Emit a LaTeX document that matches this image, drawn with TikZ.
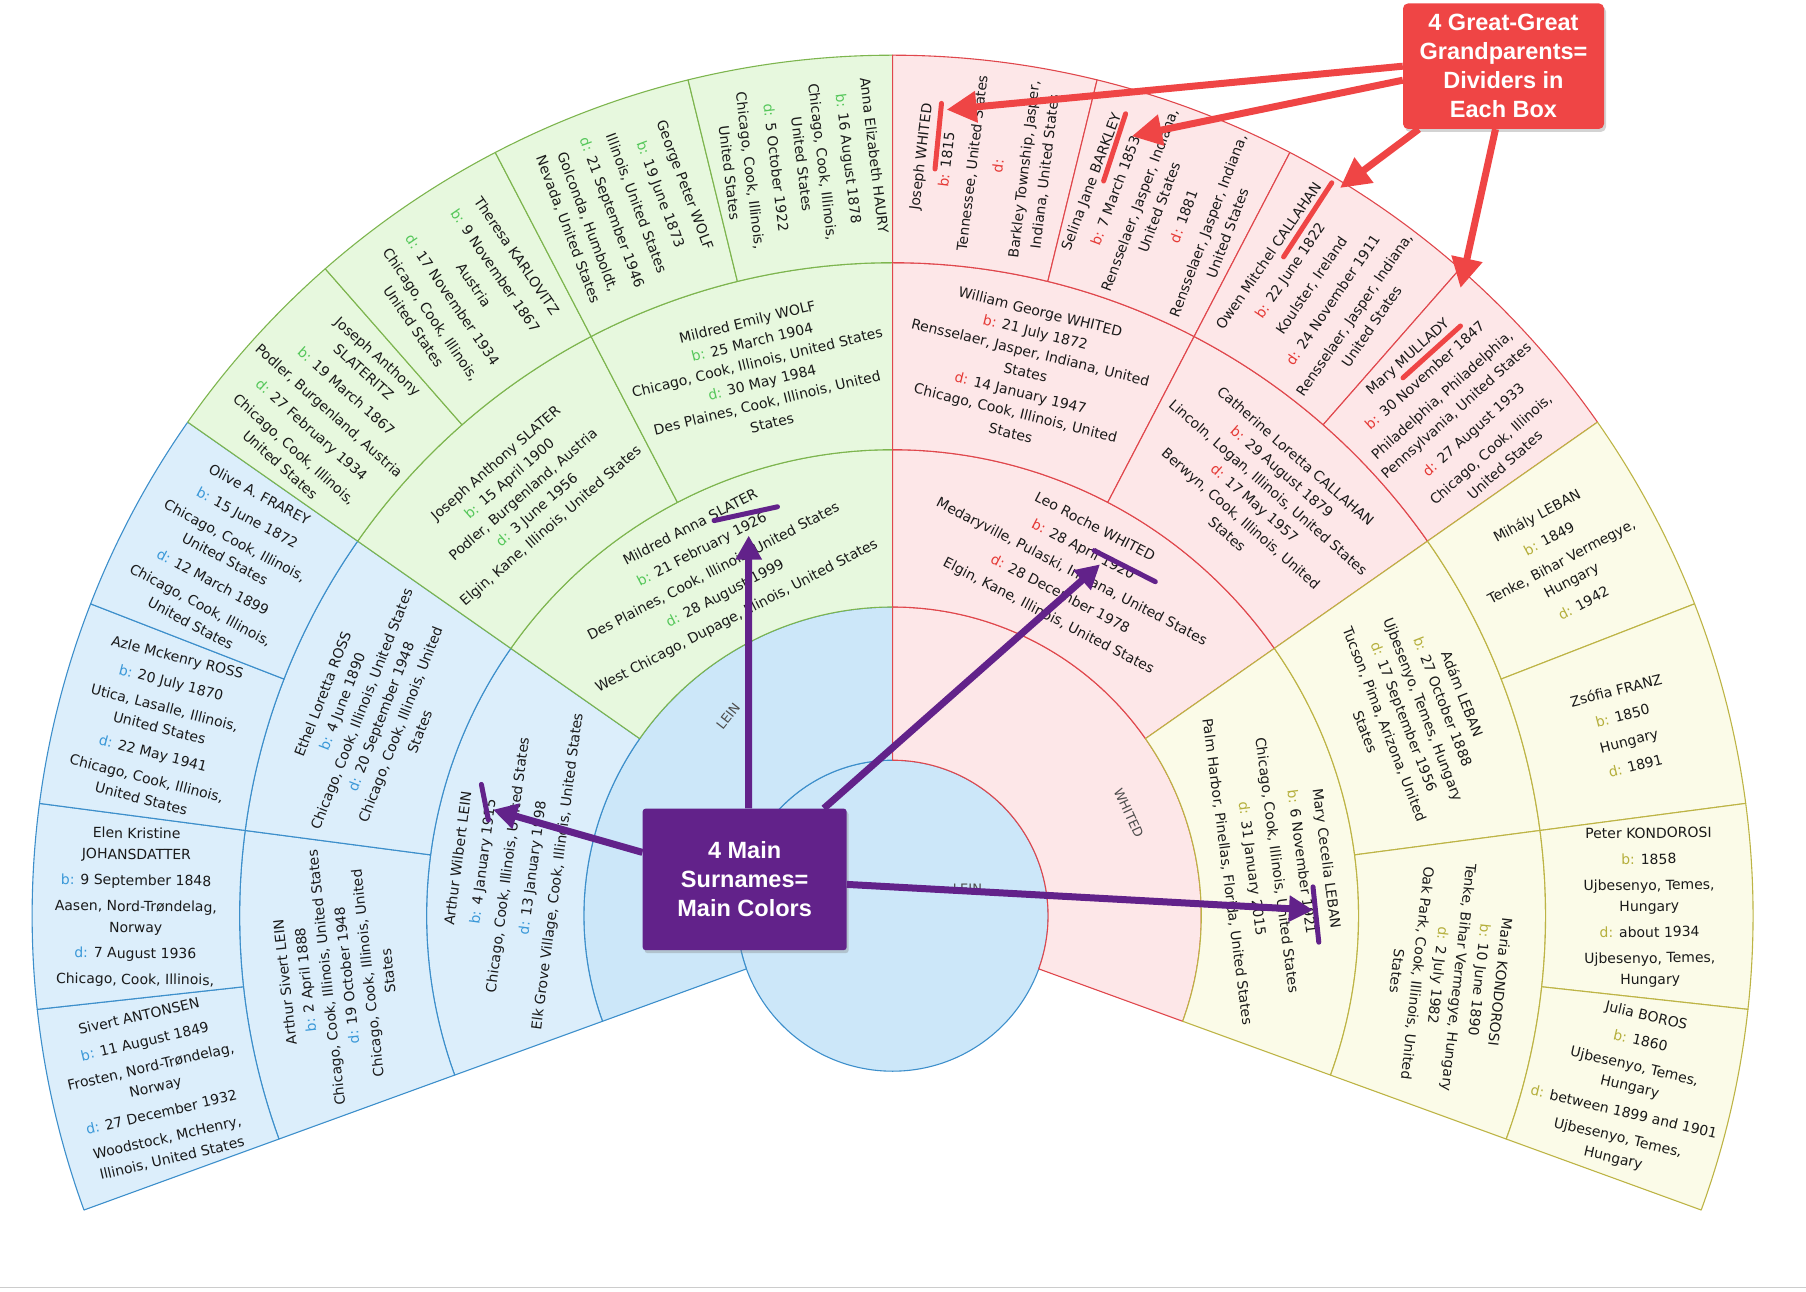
\documentclass[tikz,border=0pt]{standalone}
\usepackage{fontspec}
\setmainfont{DejaVu Sans}
\newfontfamily\annfont{Liberation Sans}
\usetikzlibrary{arrows.meta,shadows}
\definecolor{bluefill}{HTML}{DCEEFB}
\definecolor{bluecore}{HTML}{CCE7F9}
\definecolor{blueline}{HTML}{3D8FCB}
\definecolor{greenfill}{HTML}{E7F8DE}
\definecolor{greenline}{HTML}{7DB54E}
\definecolor{pinkfill}{HTML}{FDE7E8}
\definecolor{pinkline}{HTML}{E0474C}
\definecolor{yellowfill}{HTML}{FBFBE8}
\definecolor{yellowline}{HTML}{BDB445}
\definecolor{bluekey}{HTML}{3A98D8}
\definecolor{greenkey}{HTML}{55C75A}
\definecolor{redkey}{HTML}{E53935}
\definecolor{olivekey}{HTML}{B5AF3C}
\definecolor{txt}{HTML}{1A1A1A}
\definecolor{callred}{HTML}{EF4545}
\definecolor{callpurple}{HTML}{62228A}
\colorlet{key}{bluekey}
\newcommand\kb{\textcolor{key}{b:} }
\newcommand\kd{\textcolor{key}{d:} }
\newcommand\wl{\\[-5pt]}
\newcommand\fansec[6]{\filldraw[fill=#5,draw=#6,line width=1.1pt,line join=round] (#1:#3) arc[start angle=#1,end angle=#2,radius=#3] -- (#2:#4) arc[start angle=#2,end angle=#1,radius=#4] -- cycle;}
\tikzset{
  person/.style={align=center,text=txt,inner sep=0pt},
  rfour/.style={person,font=\fontsize{14}{26}\selectfont},
  rthree/.style={person,font=\fontsize{14}{20.8}\selectfont},
  rtwo/.style={person,font=\fontsize{14}{25}\selectfont},
  rone/.style={inner sep=0pt,text=black!70,font=\fontsize{13}{15}\selectfont},
  callbox/.style={rounded corners=5pt,text=white,align=center,inner sep=0pt,
    font=\annfont\bfseries\fontsize{23.5}{29}\selectfont,
    drop shadow={opacity=0.35,shadow xshift=2pt,shadow yshift=-3pt}},
  redarrow/.style={draw=callred,line width=7pt,-{Triangle[length=30pt,width=30pt]}},
  purplearrow/.style={draw=callpurple,line width=7pt,-{Triangle[length=24pt,width=25pt]}},
  redmark/.style={draw=callred,line width=5pt,line cap=round},
  purplemark/.style={draw=callpurple,line width=5pt,line cap=round}
}
\begin{document}
\begin{tikzpicture}[x=1pt,y=1pt]
\useasboundingbox (-892.6,-375.3) rectangle (913.4,915.7);
\draw[black!20,line width=1.5pt] (-892.6,-372) -- (913.4,-372);
% center and ring 1
\filldraw[fill=bluecore,draw=blueline,line width=1.1pt] (0,0) circle[radius=155.5];
\fansec{90}{200}{155.5}{308.7}{bluecore}{blueline}
\fansec{-20}{90}{155.5}{308.7}{pinkfill}{pinkline}
% ring 2
\fansec{145}{200}{308.7}{466}{bluefill}{blueline}
\fansec{90}{145}{308.7}{466}{greenfill}{greenline}
\fansec{35}{90}{308.7}{466}{pinkfill}{pinkline}
\fansec{-20}{35}{308.7}{466}{yellowfill}{yellowline}
% ring 3
\foreach \a/\b in {172.5/200,145/172.5}{\fansec{\a}{\b}{466}{653}{bluefill}{blueline}}
\foreach \a/\b in {117.5/145,90/117.5}{\fansec{\a}{\b}{466}{653}{greenfill}{greenline}}
\foreach \a/\b in {62.5/90,35/62.5}{\fansec{\a}{\b}{466}{653}{pinkfill}{pinkline}}
\foreach \a/\b in {7.5/35,-20/7.5}{\fansec{\a}{\b}{466}{653}{yellowfill}{yellowline}}
% ring 4
\foreach \a/\b in {186.25/200,172.5/186.25,158.75/172.5,145/158.75}{\fansec{\a}{\b}{653}{860.5}{bluefill}{blueline}}
\foreach \a/\b in {131.25/145,117.5/131.25,103.75/117.5,90/103.75}{\fansec{\a}{\b}{653}{860.5}{greenfill}{greenline}}
\foreach \a/\b in {76.25/90,62.5/76.25,48.75/62.5,35/48.75}{\fansec{\a}{\b}{653}{860.5}{pinkfill}{pinkline}}
\foreach \a/\b in {21.25/35,7.5/21.25,-6.25/7.5,-20/-6.25}{\fansec{\a}{\b}{653}{860.5}{yellowfill}{yellowline}}

% ring 1 and center labels
\node (c0) [rone] at (74.9,26.5) {LEIN};
\node (r11) [rone,rotate=52] at (129.5:258.5) {LEIN};
\node (r12) [rone,rotate=-65] at (23.5:257.5) {WHITED};

% ---- blue side
\colorlet{key}{bluekey}
\node (n41) [rfour,rotate=13.125] at (193.125:756.8) {Sivert ANTONSEN\\\kb 11 August 1849\\Frosten, Nord-Trøndelag,\wl Norway\\\kd 27 December 1932\\Woodstock, McHenry,\wl Illinois, United States};
\node (n42) [rfour,rotate=-0.625] at (179.375:756.8) {Elen Kristine\wl JOHANSDATTER\\\kb 9 September 1848\\Aasen, Nord-Trøndelag,\wl Norway\\\kd 7 August 1936\\Chicago, Cook, Illinois,};
\node (n43) [rfour,rotate=-14.375] at (165.625:756.8) {Azle Mckenry ROSS\\\kb 20 July 1870\\Utica, Lasalle, Illinois,\wl United States\\\kd 22 May 1941\\Chicago, Cook, Illinois,\wl United States};
\node (n44) [rfour,rotate=-28.125] at (151.875:756.8) {Olive A. FRAREY\\\kb 15 June 1872\\Chicago, Cook, Illinois,\wl United States\\\kd 12 March 1899\\Chicago, Cook, Illinois,\wl United States};
\node (n31) [rthree,rotate=96.25] at (186.25:559.5) {Arthur Sivert LEIN\\\kb 2 April 1888\\Chicago, Cook, Illinois, United States\\\kd 19 October 1948\\Chicago, Cook, Illinois, United\\States};
\node (n32) [rthree,rotate=68.75] at (158.75:559.5) {Ethel Loretta ROSS\\\kb 4 June 1890\\Chicago, Cook, Illinois, United States\\\kd 20 September 1948\\Chicago, Cook, Illinois, United\\States};
\node (n21) [rtwo,rotate=82.5] at (172.5:387.4) {Arthur Wilbert LEIN\\\kb 4 January 1915\\Chicago, Cook, Illinois, United States\\\kd 13 January 1998\\Elk Grove Village, Cook, Illinois, United States};

% ---- green side
\colorlet{key}{greenkey}
\node (n45) [rfour,rotate=-41.875] at (138.125:756.8) {Joseph Anthony\wl SLATERITZ\\\kb 19 March 1867\\Podler, Burgenland, Austria\\\kd 27 February 1934\\Chicago, Cook, Illinois,\wl United States};
\node (n46) [rfour,rotate=-55.625] at (124.375:756.8) {Theresa KARLOVITZ\\\kb 9 November 1867\\Austria\\\kd 17 November 1934\\Chicago, Cook, Illinois,\wl United States};
\node (n47) [rfour,rotate=-69.375] at (110.625:756.8) {George Peter WOLF\\\kb 19 June 1873\\Illinois, United States\\\kd 21 September 1946\\Golconda, Humboldt,\wl Nevada, United States};
\node (n48) [rfour,rotate=-83.125] at (96.875:756.8) {Anna Elizabeth HAURY\\\kb 16 August 1878\\Chicago, Cook, Illinois,\wl United States\\\kd 5 October 1922\\Chicago, Cook, Illinois,\wl United States};
\node (n33) [rthree,rotate=41.25] at (131.25:559.5) {Joseph Anthony SLATER\\\kb 15 April 1900\\Podler, Burgenland, Austria\\\kd 3 June 1956\\Elgin, Kane, Illinois, United States};
\node (n34) [rthree,rotate=13.75] at (103.75:559.5) {Mildred Emily WOLF\\\kb 25 March 1904\\Chicago, Cook, Illinois, United States\\\kd 30 May 1984\\Des Plaines, Cook, Illinois, United\\States};
\node (n22) [rtwo,rotate=27.5] at (117.5:387.4) {Mildred Anna SLATER\\\kb 21 February 1926\\Des Plaines, Cook, Illinois, United States\\\kd 28 August 1999\\West Chicago, Dupage, Illinois, United States};

% ---- pink side
\colorlet{key}{redkey}
\node (n49) [rfour,rotate=83.125] at (83.125:756.8) {Joseph WHITED\\\kb 1815\\Tennessee, United States\\\textcolor{key}{d:}\\Barkley Township, Jasper,\wl Indiana, United States};
\node (n410) [rfour,rotate=69.375] at (69.375:756.8) {Selina Jane BARKLEY\\\kb 7 March 1853\\Rensselaer, Jasper, Indiana,\wl United States\\\kd 1881\\Rensselaer, Jasper, Indiana,\wl United States};
\node (n411) [rfour,rotate=55.625] at (55.625:756.8) {Owen Mitchel CALLAHAN\\\kb 22 June 1822\\Koulster, Ireland\\\kd 24 November 1911\\Rensselaer, Jasper, Indiana,\wl United States};
\node (n412) [rfour,rotate=41.875] at (41.875:756.8) {Mary MULLADY\\\kb 30 November 1847\\Philadelphia, Philadelphia,\wl Pennsylvania, United States\\\kd 27 August 1933\\Chicago, Cook, Illinois,\wl United States};
\node (n35) [rthree,rotate=-13.75] at (76.25:559.5) {William George WHITED\\\kb 21 July 1872\\Rensselaer, Jasper, Indiana, United\\States\\\kd 14 January 1947\\Chicago, Cook, Illinois, United\\States};
\node (n36) [rthree,rotate=-41.25] at (48.75:559.5) {Catherine Loretta CALLAHAN\\\kb 29 August 1879\\Lincoln, Logan, Illinois, United States\\\kd 17 May 1957\\Berwyn, Cook, Illinois, United\\States};
\node (n23) [rtwo,rotate=-27.5] at (62.5:387.4) {Leo Roche WHITED\\\kb 28 April 1920\\Medaryville, Pulaski, Indiana, United States\\\kd 28 December 1978\\Elgin, Kane, Illinois, United States};

% ---- yellow side
\colorlet{key}{olivekey}
\node (n413) [rfour,rotate=28.125] at (28.125:756.8) {Mihály LEBAN\\\kb 1849\\Tenke, Bihar Vermegye,\wl Hungary\\\kd 1942};
\node (n414) [rfour,rotate=14.375] at (14.375:756.8) {Zsófia FRANZ\\\kb 1850\\Hungary\\\kd 1891};
\node (n415) [rfour,rotate=0.625] at (0.625:756.8) {Peter KONDOROSI\\\kb 1858\\Ujbesenyo, Temes,\wl Hungary\\\kd about 1934\\Ujbesenyo, Temes,\wl Hungary};
\node (n416) [rfour,rotate=-13.125] at (-13.125:756.8) {Julia BOROS\\\kb 1860\\Ujbesenyo, Temes,\wl Hungary\\\kd between 1899 and 1901\\Ujbesenyo, Temes,\wl Hungary};
\node (n37) [rthree,rotate=-68.75] at (21.25:559.5) {Adám LEBAN\\\kb 27 October 1888\\Ujbesenyo, Temes, Hungary\\\kd 17 September 1956\\Tucson, Pima, Arizona, United\\States};
\node (n38) [rthree,rotate=-96.25] at (-6.25:559.5) {Maria KONDOROSI\\\kb 10 June 1890\\Tenke, Bihar Vermegye, Hungary\\\kd 2 July 1982\\Oak Park, Cook, Illinois, United\\States};
\node (n24) [rtwo,rotate=-82.5] at (7.5:387.4) {Mary Cecelia LEBAN\\\kb 6 November 1921\\Chicago, Cook, Illinois, United States\\\kd 31 January 2015\\Palm Harbor, Pinellas, Florida, United States};

% ---- annotation coordinates
\coordinate (m1a) at (48.9,812.3); \coordinate (m1b) at (42.4,746.7);
\coordinate (m2a) at (233,801.9);  \coordinate (m2b) at (211,734.7);
\coordinate (m3a) at (439.2,732.9); \coordinate (m3b) at (391,658.8);
\coordinate (m4a) at (567.9,589.7); \coordinate (m4b) at (510.4,537.9);
\coordinate (t1) at (54,806);
\coordinate (t2) at (239.2,779.5);
\coordinate (t3) at (447.4,727.7);
\coordinate (t4) at (567.9,627.7);
\coordinate (q1a) at (-411.2,131.3); \coordinate (q1b) at (-404.2,95.7);
\coordinate (q2a) at (-178.5,395.1); \coordinate (q2b) at (-115.1,408.9);
\coordinate (q3a) at (201.6,365.1);  \coordinate (q3b) at (262.7,334);
\coordinate (q4a) at (420.4,28.8);   \coordinate (q4b) at (426.2,-26.5);
\coordinate (u1) at (-399.6,106);
\coordinate (u2) at (-143.9,380.1);
\coordinate (u3) at (207.4,351.3);
\coordinate (u4) at (420.4,5.7);

% markers
\draw[redmark] (m1a) -- (m1b);
\draw[redmark] (m2a) -- (m2b);
\draw[redmark] (m3a) -- (m3b);
\draw[redmark] (m4a) -- (m4b);
\draw[purplemark] (q1a) -- (q1b);
\draw[purplemark] (q2a) -- (q2b);
\draw[purplemark] (q3a) -- (q3b);
\draw[purplemark] (q4a) -- (q4b);

% callout boxes
\node (redbox) [callbox,fill=callred,minimum width=201pt,minimum height=125.5pt] at (610.9,849.5) {4 Great-Great\\Grandparents=\\Dividers in\\Each Box};
\node (pbox) [callbox,rounded corners=3pt,fill=callpurple,minimum width=204pt,minimum height=141.6pt] at (-147.95,36.3) {4 Main\\Surnames=\\Main Colors};

% arrows
\draw[redarrow] (redbox.west) -- (t1);
\draw[redarrow] ([yshift=-14pt]redbox.west) -- (t2);
\draw[redarrow] ([xshift=16pt]redbox.south west) -- (t3);
\draw[redarrow] ([xshift=-8pt]redbox.south) -- (t4);
\draw[purplearrow] ([yshift=27pt]pbox.west) -- (u1);
\draw[purplearrow] ([xshift=4pt]pbox.north) -- (u2);
\draw[purplearrow] ([xshift=-23pt]pbox.north east) -- (u3);
\draw[purplearrow] ([yshift=-5pt]pbox.east) -- (u4);
\end{tikzpicture}
\end{document}
